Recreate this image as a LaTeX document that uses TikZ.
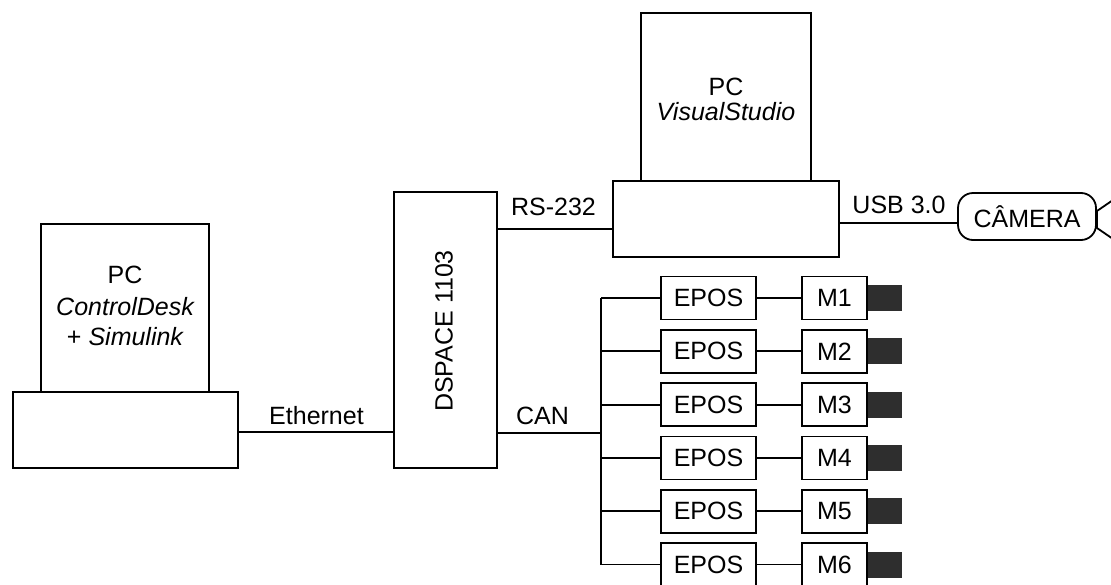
\documentclass[tikz,border=0pt]{standalone}
\usepackage{fontspec}
\setmainfont{Liberation Sans}
\begin{document}
\begin{tikzpicture}[x=1pt,y=-1pt,
  every node/.style={font=\fontsize{25}{29}\selectfont},
  box/.style={draw, line width=1.8pt, inner sep=0pt, outer sep=0pt},
  wire/.style={line width=1.8pt},
  lbl/.style={anchor=base, inner sep=0pt},
  motor/.style={fill=black!82, draw=none, inner sep=0pt, minimum width=34pt, minimum height=26pt}
]
\useasboundingbox (0,0) rectangle (1111,584);
% left PC
\node[box, minimum width=168pt, minimum height=168pt] (mon1) at (125,308) {};
\node[box, minimum width=225pt, minimum height=76pt] (base1) at (125.5,430) {};
\node[lbl] (t1a) at (125,283) {PC};
\node[lbl] (t1b) at (125,315) {\itshape ControlDesk};
\node[lbl] (t1c) at (125,345) {+ \itshape Simulink};
% dSPACE
\node[box, minimum width=103pt, minimum height=276pt] (ds) at (445.5,330) {};
\node[rotate=90, inner sep=0pt] (dst) at (444,331) {DSPACE 1103};
% right PC
\node[box, minimum width=170pt, minimum height=168pt] (mon2) at (726,97) {};
\node[box, minimum width=226pt, minimum height=76pt] (base2) at (726,219) {};
\node[lbl] (t2a) at (726,95) {PC};
\node[lbl] (t2b) at (726,120) {\itshape VisualStudio};
% camera
\node[box, rounded corners=15pt, minimum width=138pt, minimum height=47pt] (cam) at (1027,216.5) {CÂMERA};
\coordinate (l1) at (1097,211);
\coordinate (l2) at (1097,228);
\coordinate (l1e) at (1113,200);
\coordinate (l2e) at (1113,239);
\draw[wire] (l1e) -- (l1) -- (l2) -- (l2e);
% connectors
\draw[wire] (base1.east |- 0,432) -- (ds.west |- 0,432);
\node[lbl] (eth) at (316.5,424) {Ethernet};
\draw[wire] (ds.east |- 0,229) -- (base2.west |- 0,229);
\node[lbl] (rs) at (553.5,215) {RS-232};
\draw[wire] (base2.east |- 0,223) -- (cam.west |- 0,223);
\node[lbl] (usb) at (899,213) {USB 3.0};
\coordinate (busj) at (601,433);
\draw[wire] (ds.east |- busj) -- (busj);
\node[lbl] (can) at (542.5,424) {CAN};
% EPOS and motors
\foreach \i/\y in {1/298,2/351.3,3/404.6,4/457.9,5/511.2,6/564.5}{
  \node[box, minimum width=95pt, minimum height=43pt] (e\i) at (708.5,\y) {EPOS};
  \node[box, minimum width=65pt, minimum height=43pt] (m\i) at (834.5,\y) {M\i};
  \node[motor] (s\i) at (885,\y) {};
  \coordinate (b\i) at (601,\y);
  \draw[wire] (b\i) -- (e\i.west);
  \draw[wire] (e\i.east) -- (m\i.west);
}
\draw[wire] (b1) -- (b6);
\end{tikzpicture}
\end{document}
